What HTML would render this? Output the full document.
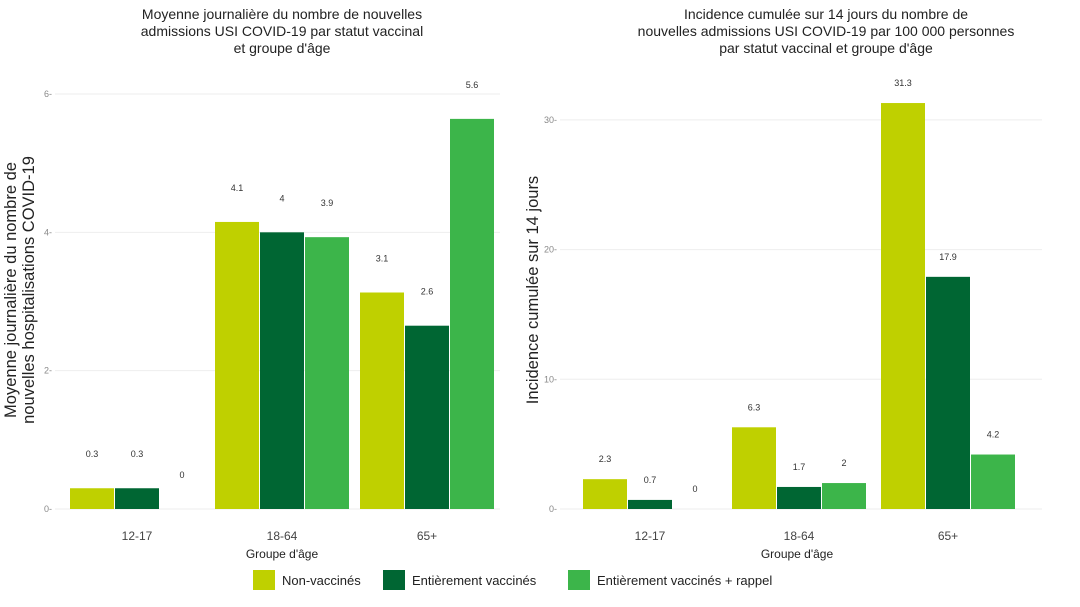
<!DOCTYPE html>
<html><head><meta charset="utf-8"><style>
body{margin:0;background:#fff;}
svg{display:block;font-family:"Liberation Sans",sans-serif;}
</style></head><body>
<svg id="chart" width="1080" height="607" viewBox="0 0 1080 607">
<g font-size="14" fill="#222" text-anchor="middle">
<text x="282" y="19">Moyenne journalière du nombre de nouvelles</text>
<text x="282" y="36">admissions USI COVID-19 par statut vaccinal</text>
<text x="282" y="53">et groupe d'âge</text></g>
<g font-size="14" fill="#222" text-anchor="middle">
<text x="826" y="19">Incidence cumulée sur 14 jours du nombre de</text>
<text x="826" y="36">nouvelles admissions USI COVID-19 par 100 000 personnes</text>
<text x="826" y="53">par statut vaccinal et groupe d'âge</text></g>
<g font-size="16.5" fill="#222" text-anchor="middle" transform="translate(16,290) rotate(-90)">
<text x="0" y="0">Moyenne journalière du nombre de</text><text x="0" y="18">nouvelles hospitalisations COVID-19</text></g>
<text font-size="16.5" fill="#222" text-anchor="middle" transform="translate(538,290) rotate(-90)">Incidence cumulée sur 14 jours</text>
<text x="282" y="558" font-size="12" fill="#222" text-anchor="middle">Groupe d'âge</text>
<text x="797" y="558" font-size="12" fill="#222" text-anchor="middle">Groupe d'âge</text>
<g id="left"></g>
<g id="right"></g>
<g font-size="13" fill="#222">
<g><rect x="253" y="570" width="22" height="20" fill="#bfd000"/><text x="282" y="585">Non-vaccinés</text></g>
<g><rect x="383" y="570" width="22" height="20" fill="#006633"/><text x="412" y="585">Entièrement vaccinés</text></g>
<g><rect x="568" y="570" width="22" height="20" fill="#3cb54a"/><text x="597" y="585">Entièrement vaccinés + rappel</text></g>
</g>
</svg>
<script>
const categories = ["12-17","18-64","65+"];
const seriesNames = ["Non-vaccinés","Entièrement vaccinés","Entièrement vaccinés + rappel"];
const leftNonVax = [0.3, 4.15, 3.13];
const leftVax = [0.3, 4.0, 2.65];
const leftBoost = [0, 3.93, 5.64];
const leftLabels = [["0.3","0.3","0"],["4.1","4","3.9"],["3.1","2.6","5.6"]];
const leftTicks = [0, 2, 4, 6];
const rightNonVax = [2.3, 6.3, 31.3];
const rightVax = [0.7, 1.7, 17.9];
const rightBoost = [0, 2, 4.2];
const rightLabels = [["2.3","0.7","0"],["6.3","1.7","2"],["31.3","17.9","4.2"]];
const rightTicks = [0, 10, 20, 30];
const colors = ["#bfd000","#006633","#3cb54a"];
const NS = "http://www.w3.org/2000/svg";
function mk(tag, attrs, parent){const e=document.createElementNS(NS,tag);for(const k in attrs)e.setAttribute(k,attrs[k]);parent.appendChild(e);return e;}
function draw(g, series, labels, ticks, cfg){
  const y = v => cfg.y0 - v*cfg.pxPerUnit;
  const x = i => cfg.c0 + i*cfg.step;
  ticks.forEach(t=>{
    const l=mk("line",{x1:cfg.gx0,x2:cfg.gx1,y1:y(t),y2:y(t),stroke:"#eeeeee","stroke-width":1},g);
    
    
    const tx=mk("text",{x:cfg.tickX,y:y(t)+3,"font-size":9,fill:"#888","text-anchor":"end"},g);
    tx.textContent=t+"-";
    
    
  });
  categories.forEach((c,i)=>{
    const tl=mk("text",{x:x(i),y:540,"font-size":12,fill:"#444","text-anchor":"middle"},g);
    tl.textContent=c;
    
    
    series.forEach((s,j)=>{
      const bx=x(i)+(j-1.5)*cfg.bw;
      const v=s[i];
      if(v>0){
        const r=mk("rect",{x:bx+0.5,y:y(v),width:cfg.bw-1,height:cfg.y0-y(v),fill:colors[j]},g);
        
        
      }
      const lt=mk("text",{x:bx+cfg.bw/2,y:y(v)-cfg.lblOff,"font-size":9,fill:"#333","text-anchor":"middle"},g);
      lt.textContent=labels[i][j];
      
      
    });
  });
}
draw(document.getElementById("left"),[leftNonVax,leftVax,leftBoost],leftLabels,leftTicks,
  {y0:509,pxPerUnit:69.17,c0:137,step:145,bw:45,gx0:55,gx1:500,tickX:52,lblOff:31});
draw(document.getElementById("right"),[rightNonVax,rightVax,rightBoost],rightLabels,rightTicks,
  {y0:509,pxPerUnit:12.97,c0:650,step:149,bw:45,gx0:560,gx1:1042,tickX:557,lblOff:17});
</script>
</body></html>
